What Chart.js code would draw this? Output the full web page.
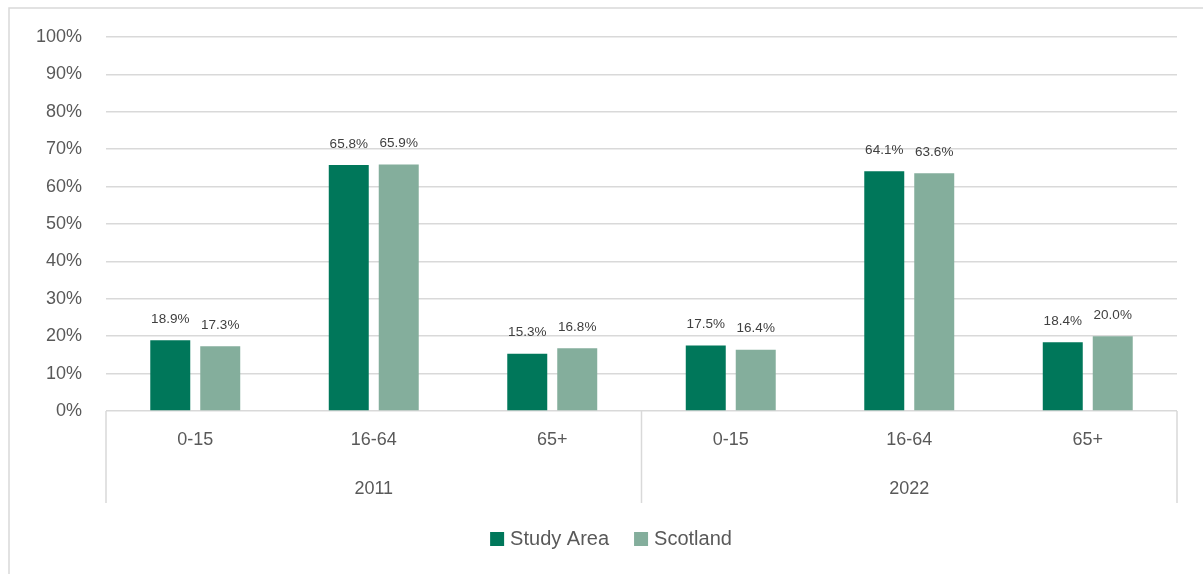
<!DOCTYPE html>
<html>
<head>
<meta charset="utf-8">
<script src="https://cdn.jsdelivr.net/npm/chart.js@4"></script>
<style>
html,body{margin:0;padding:0;background:#fff;}
#wrap{position:relative;width:1203px;height:574px;}
</style>
</head>
<body>
<div id="wrap"><canvas id="c" width="1203" height="574"></canvas></div>
<script>
const ageGroups = ['0-15', '16-64', '65+', '0-15', '16-64', '65+'];
const years = ['2011', '2022'];
const studyArea = [18.9, 65.8, 15.3, 17.5, 64.1, 18.4];
const scotland = [17.3, 65.9, 16.8, 16.4, 63.6, 20.0];
const yTicks = [0, 10, 20, 30, 40, 50, 60, 70, 80, 90, 100];
const seriesNames = ['Study Area', 'Scotland'];
const seriesColors = ['#00775A', '#84AE9C'];

const FONT = "'Liberation Sans', Arial, sans-serif";
const GRID = '#D9D9D9';

const framePlugin = {
  id: 'frame',
  beforeDraw(chart) {
    const ctx = chart.ctx;
    ctx.save();
    ctx.strokeStyle = GRID;
    ctx.lineWidth = 1.5;
    ctx.beginPath();
    ctx.moveTo(9, 574);
    ctx.lineTo(9, 8);
    ctx.lineTo(1203, 8);
    ctx.stroke();
    ctx.restore();
  }
};

const groupAxisPlugin = {
  id: 'groupAxis',
  afterDraw(chart) {
    const ctx = chart.ctx;
    const x = chart.scales.x;
    const area = chart.chartArea;
    const per = ageGroups.length / years.length;
    const bottom = area.bottom + 92;
    ctx.save();
    ctx.strokeStyle = GRID;
    ctx.lineWidth = 1.5;
    const step = (x.right - x.left) / ageGroups.length;
    for (let g = 0; g <= years.length; g++) {
      const px = x.left + g * per * step;
      ctx.beginPath();
      ctx.moveTo(px, area.bottom);
      ctx.lineTo(px, bottom);
      ctx.stroke();
    }
    ctx.fillStyle = '#595959';
    ctx.font = '18px ' + FONT;
    ctx.textAlign = 'center';
    ctx.textBaseline = 'middle';
    years.forEach((yr, g) => {
      const cx = x.left + (g * per + per / 2) * step;
      ctx.fillText(yr, cx, area.bottom + 78);
    });
    ctx.restore();
  }
};

const dataLabelPlugin = {
  id: 'dataLabels',
  afterDatasetsDraw(chart) {
    const ctx = chart.ctx;
    ctx.save();
    ctx.fillStyle = '#404040';
    ctx.font = '13.5px ' + FONT;
    ctx.textAlign = 'center';
    ctx.textBaseline = 'middle';
    chart.data.datasets.forEach((ds, di) => {
      const meta = chart.getDatasetMeta(di);
      meta.data.forEach((bar, i) => {
        ctx.fillText(ds.data[i].toFixed(1) + '%', bar.x, bar.y - 21);
      });
    });
    ctx.restore();
  }
};

const legendPlugin = {
  id: 'customLegend',
  afterDraw(chart) {
    const ctx = chart.ctx;
    ctx.save();
    ctx.font = '20px ' + FONT;
    ctx.textBaseline = 'middle';
    const box = 14, gapBoxText = 6, gapItems = 25;
    const widths = seriesNames.map(n => box + gapBoxText + ctx.measureText(n).width);
    const total = widths.reduce((a, b) => a + b, 0) + gapItems * (seriesNames.length - 1);
    let xPos = 611 - total / 2;
    const yc = 539;
    seriesNames.forEach((n, i) => {
      ctx.fillStyle = seriesColors[i];
      ctx.fillRect(xPos, yc - box / 2, box, box);
      ctx.fillStyle = '#595959';
      ctx.fillText(n, xPos + box + gapBoxText, yc);
      xPos += widths[i] + gapItems;
    });
    ctx.restore();
  }
};

new Chart(document.getElementById('c'), {
  type: 'bar',
  data: {
    labels: ageGroups,
    datasets: [
      { label: seriesNames[0], data: studyArea, backgroundColor: seriesColors[0] },
      { label: seriesNames[1], data: scotland, backgroundColor: seriesColors[1] }
    ]
  },
  options: {
    responsive: false,
    animation: false,
    devicePixelRatio: 1,
    layout: { padding: { left: 10, right: 26, top: 37, bottom: 71 } },
    datasets: { bar: { categoryPercentage: 0.56, barPercentage: 0.8 } },
    plugins: {
      legend: { display: false },
      tooltip: { enabled: false }
    },
    scales: {
      x: {
        grid: { display: false, drawTicks: false },
        border: { display: false },
        ticks: { color: '#595959', font: { family: FONT, size: 18 }, padding: 18, maxRotation: 0 },
        afterFit(s) { s.height = 92; }
      },
      y: {
        min: 0, max: 100,
        afterBuildTicks(s) { s.ticks = yTicks.map(v => ({ value: v })); },
        grid: { color: GRID, lineWidth: 1.5, drawTicks: false },
        border: { display: false },
        ticks: {
          color: '#595959', font: { family: FONT, size: 18 }, padding: 24,
          callback: v => v + '%'
        },
        afterFit(s) { s.width = 96; }
      }
    }
  },
  plugins: [framePlugin, groupAxisPlugin, dataLabelPlugin, legendPlugin]
});
</script>
</body>
</html>
